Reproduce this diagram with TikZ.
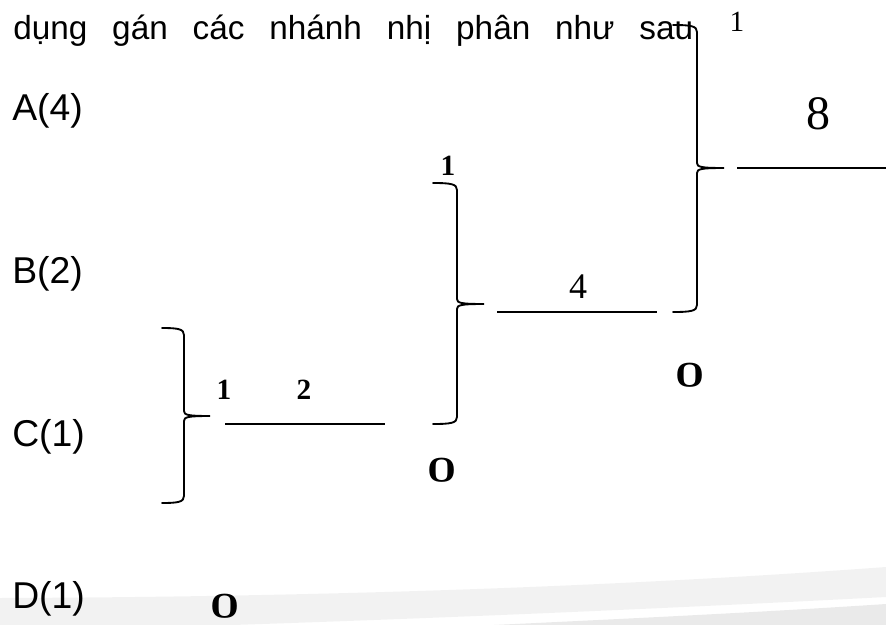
\documentclass[tikz,border=0pt]{standalone}
\usepackage{fix-cm}
\usepackage{fontspec}
\setmainfont{Liberation Serif}
\newfontfamily\arialfont{Liberation Sans}
\usepackage{tikz}

\definecolor{bandlight}{HTML}{F2F2F2}
\definecolor{banddark}{HTML}{EAEAEA}
% bold old-style zero
\newcommand{\bitzero}{{\usefont{OML}{cmm}{b}{it}0}}

\begin{document}
\begin{tikzpicture}[x=0.75pt,y=-0.75pt,
    brace/.style={line width=1.4pt,line cap=round},
    branch/.style={line width=1.5pt},
    leaf/.style={anchor=base west,inner sep=0pt,font=\arialfont\fontsize{28}{30}\selectfont},
    bit/.style={inner sep=0pt,font=\bfseries\fontsize{22}{24}\selectfont},
    zero/.style={inner sep=0pt,font=\fontsize{38}{40}\selectfont}]
        \useasboundingbox (0,0) rectangle (886,625);
        % grey bands at the bottom
        \fill[bandlight] (0,598) .. controls (300,597) and (600,588) .. (886,567)
            -- (886,597) .. controls (600,612) and (300,624) .. (0,632) -- cycle;
        \fill[banddark] (430,628) .. controls (600,620) and (750,613) .. (886,604)
            -- (886,640) -- (430,640) -- cycle;

        \node[anchor=base west,inner sep=0pt,font=\arialfont\fontsize{25}{28}\selectfont] (title) at (13,39)
            {\makebox[510pt][s]{dụng gán các nhánh nhị phân như sau}};
        \foreach \n/\y/\t in {A/120/A(4), B/283/B(2), C/446/C(1), D/608/D(1)} {
            \node[leaf] (leaf\n) at (12,\y) {\t};
        }

        % braces
        \foreach \n/\xh/\xv/\yt/\yb/\xt/\ym in {cd/162/184/328/503/210/416, bcd/433/457/183/424/484/304, all/673/697/25/312/724/168} {
            \coordinate (tip\n) at (\xt,\ym);
            \draw[brace] (\xh,\yt) .. controls ({\xv-6},\yt) and (\xv,{\yt+1}) .. (\xv,{\yt+7})
                -- (\xv,{\ym-5}) .. controls (\xv,{\ym-1}) and ({\xv+4},\ym) .. (tip\n)
                .. controls ({\xv+4},\ym) and (\xv,{\ym+1}) .. (\xv,{\ym+5})
                -- (\xv,{\yb-7}) .. controls (\xv,{\yb-1}) and ({\xv-6},\yb) .. (\xh,\yb);
        }

        % branches
        \coordinate (cdL) at (225,424);  \coordinate (cdR) at (385,424);
        \coordinate (bcdL) at (497,312); \coordinate (bcdR) at (657,312);
        \coordinate (allL) at (737,168); \coordinate (allR) at (890,168);
        \draw[branch] (cdL) -- (cdR);
        \draw[branch] (bcdL) -- (bcdR);
        \draw[branch] (allL) -- (allR);

        % weights and bits
        \node[bit] (oneC) at (224,390) {1};
        \node[bit] (wCD) at (304,390) {2};
        \node[bit] (oneB) at (448,166) {1};
        \node[inner sep=0pt,font=\fontsize{27}{30}\selectfont] (wBCD) at (578,287) {4};
        \node[inner sep=0pt,font=\fontsize{22}{24}\selectfont] (oneA) at (737,22) {1};
        \node[inner sep=0pt,font=\fontsize{36}{38}\selectfont] (wAll) at (818,114) {8};
        \node[zero] (zeroD) at (225,606) {\bitzero};
        \node[zero] (zeroCD) at (442,470) {\bitzero};
        \node[zero] (zeroBCD) at (690,375) {\bitzero};
    \end{tikzpicture}
\end{document}
